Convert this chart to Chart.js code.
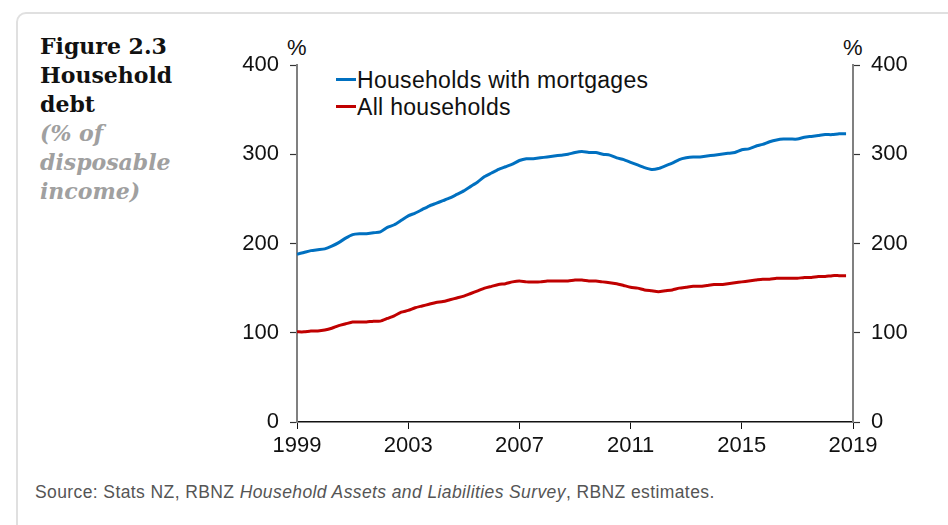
<!DOCTYPE html>
<html>
<head>
<meta charset="utf-8">
<script src="https://cdn.jsdelivr.net/npm/chart.js@4/dist/chart.umd.min.js"></script>
<style>
  html, body { margin: 0; padding: 0; background: #fff; width: 948px; height: 525px; overflow: hidden; }
  .card { position: absolute; left: 16px; top: 12px; width: 960px; height: 540px; border: 2px solid #e0e0e0; border-radius: 10px; }
  .title { position: absolute; left: 40px; top: 32px; font-family: "DejaVu Serif", serif; font-weight: bold; font-size: 22px; line-height: 29px; color: #111; }
  .title .sub { color: #a0a0a0; font-style: italic; }
  .pct { position: absolute; top: 35px; font-family: "Liberation Sans", Arial, sans-serif; font-size: 22px; color: #111; }
  .legend { position: absolute; left: 336px; top: 67px; font-family: "Liberation Sans", Arial, sans-serif; font-size: 23px; letter-spacing: 0.3px; line-height: 27px; color: #111; }
  .legend span.sw { display: inline-block; width: 20px; height: 3px; vertical-align: middle; margin-right: 1px; position: relative; top: -2px; }
  .source { position: absolute; left: 35px; top: 482px; font-family: "Liberation Sans", Arial, sans-serif; font-size: 17.5px; letter-spacing: 0.4px; color: #555; }
  #wrap { position: absolute; left: 200px; top: 30px; width: 740px; height: 440px; }
</style>
</head>
<body>
<div class="card"></div>
<div class="title">Figure 2.3<br>Household<br>debt<br><span class="sub">(% of<br>disposable<br>income)</span></div>
<div class="pct" style="left:287px">%</div>
<div class="pct" style="left:843px">%</div>
<div class="legend">
  <div><span class="sw" style="background:#0070C0"></span>Households with mortgages</div>
  <div><span class="sw" style="background:#C00000"></span>All households</div>
</div>
<div class="source">Source: Stats NZ, RBNZ <i>Household Assets and Liabilities Survey</i>, RBNZ estimates.</div>
<div id="wrap"><canvas id="debtChart"></canvas></div>

<script>
// quarterly, 1999 Q1 .. 2018 Q4
const startYear = 1999;
const mortgaged = [
  188, 190, 192, 193,
  194, 197, 201, 206,
  210, 211, 211, 212,
  213, 218, 221, 226,
  231, 234, 238, 242,
  245, 248, 251, 255,
  259, 264, 269, 275,
  279, 283, 286, 289,
  293, 295, 295, 296,
  297, 298, 299, 300,
  302, 303, 302, 302,
  300, 299, 296, 294,
  291, 288, 285, 283,
  284, 287, 290, 294,
  296, 297, 297, 298,
  299, 300, 301, 302,
  305, 306, 309, 311,
  314, 316, 317, 317,
  317, 319, 320, 321,
  322, 322, 323, 323
];
const allHouseholds = [
  101, 101, 102, 102,
  103, 105, 108, 110,
  112, 112, 112, 113,
  113, 116, 119, 123,
  125, 128, 130, 132,
  134, 135, 137, 139,
  141, 144, 147, 150,
  152, 154, 155, 157,
  158, 157, 157, 157,
  158, 158, 158, 158,
  159, 159, 158, 158,
  157, 156, 155, 153,
  151, 150, 148, 147,
  146, 147, 148, 150,
  151, 152, 152, 153,
  154, 154, 155, 156,
  157, 158, 159, 160,
  160, 161, 161, 161,
  161, 162, 162, 163,
  163, 164, 164, 164
];
const yearTicks = [1999, 2003, 2007, 2011, 2015, 2019];
const yTicks = [0, 100, 200, 300, 400];

const toPoints = arr => arr.map((v, i) => ({ x: startYear + i / 4, y: v }));

document.addEventListener('DOMContentLoaded', function () {
    const ctx = document.getElementById('debtChart');
    const font = { family: '"Liberation Sans", Arial, sans-serif', size: 22 };
    const yAxis = (pos, w) => ({
        type: 'linear',
        position: pos,
        min: 0,
        max: 400,
        afterBuildTicks: s => { s.ticks = yTicks.map(v => ({ value: v })); },
        afterFit: s => { s.width = w; },
        grid: { drawOnChartArea: false, drawTicks: true, tickLength: 7, color: '#333', tickWidth: 1.2 },
        border: { display: true, color: '#808080', width: 2 },
        ticks: { color: '#111', font: font, padding: 11 }
    });

    new Chart(ctx, {
        type: 'line',
        data: {
            datasets: [
                {
                    label: 'Households with mortgages',
                    data: toPoints(mortgaged),
                    borderColor: '#0070C0',
                    borderWidth: 3,
                    pointRadius: 0,
                    tension: 0.2
                },
                {
                    label: 'All households',
                    data: toPoints(allHouseholds),
                    borderColor: '#C00000',
                    borderWidth: 3,
                    pointRadius: 0,
                    tension: 0.2
                }
            ]
        },
        options: {
            responsive: true,
            maintainAspectRatio: false,
            animation: false,
            layout: { padding: { top: 35, left: 0, right: 0, bottom: 0 } },
            plugins: {
                legend: { display: false },
                tooltip: { enabled: false }
            },
            scales: {
                x: {
                    type: 'linear',
                    min: 1999,
                    max: 2019,
                    afterBuildTicks: s => { s.ticks = yearTicks.map(v => ({ value: v })); },
                    afterFit: s => { s.height = 48; },
                    grid: { drawOnChartArea: false, drawTicks: true, tickLength: 7, color: '#111' },
                    border: { display: true, color: '#111', width: 1.5 },
                    ticks: { color: '#111', font: font, padding: 4, maxRotation: 0, callback: v => String(v) }
                },
                y: yAxis('left', 97),
                y2: yAxis('right', 87)
            }
        }
    });
});
</script>
</body>
</html>
